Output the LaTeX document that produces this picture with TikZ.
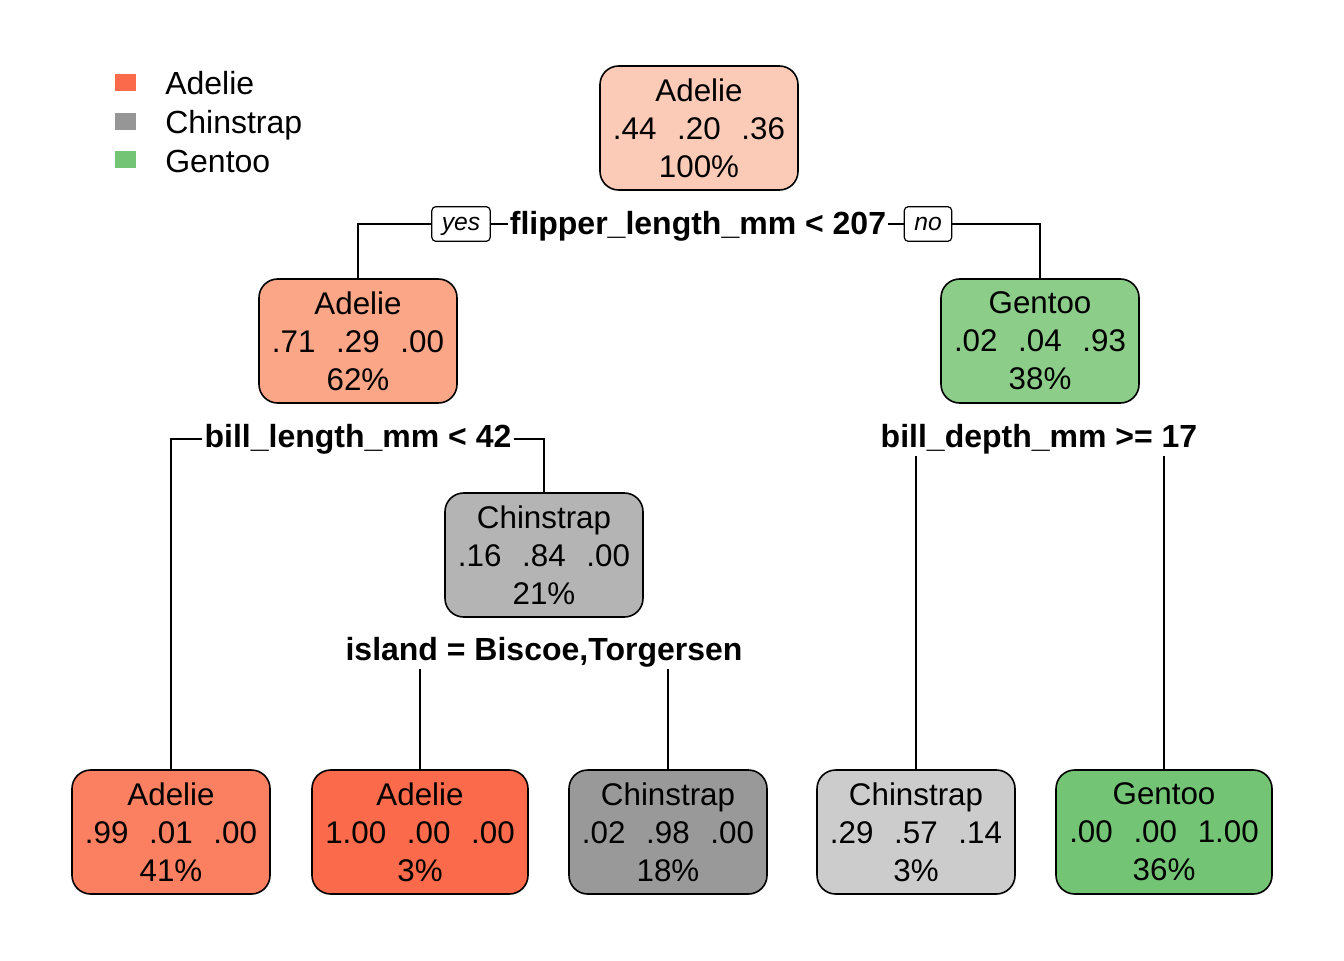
\documentclass[tikz,border=0pt]{standalone}
\usepackage{fontspec}
\setmainfont{Liberation Sans}
\definecolor{cRoot}{RGB}{252,203,184}
\definecolor{cAdA}{RGB}{252,166,136}
\definecolor{cGeA}{RGB}{140,206,137}
\definecolor{cChA}{RGB}{180,180,180}
\definecolor{cAdB}{RGB}{251,128,98}
\definecolor{cAdC}{RGB}{251,106,74}
\definecolor{cChB}{RGB}{153,153,153}
\definecolor{cChC}{RGB}{204,204,204}
\definecolor{cGeB}{RGB}{116,196,118}
\definecolor{kAd}{RGB}{251,106,74}
\definecolor{kCh}{RGB}{150,150,150}
\definecolor{kGe}{RGB}{116,196,118}
\newcommand{\gp}{\hspace{0.66em}}
\begin{document}
\begin{tikzpicture}[x=0.75pt,y=-0.75pt,
  tbox/.style={draw, line width=1.2pt, rounded corners=14pt, minimum width=148.5pt, minimum height=93pt, align=center, font=\fontsize{23.5}{28.5}\selectfont, inner sep=0pt},
  wbox/.style={tbox, minimum width=162pt},
  split/.style={font=\fontsize{24}{28}\selectfont\bfseries, inner sep=1.5pt},
  yn/.style={draw, line width=0.9pt, rounded corners=3pt, font=\fontsize{18.5}{20}\selectfont\itshape, inner xsep=7.5pt, inner ysep=0pt, minimum height=26pt, text height=13pt, text depth=3.5pt},
  conn/.style={line width=1.1pt},
  legsq/.style={minimum width=15.75pt, minimum height=12.75pt, inner sep=0pt},
  legtx/.style={anchor=base west, inner sep=0pt, font=\fontsize{24}{28}\selectfont}]
\useasboundingbox (0,0) rectangle (1344,960);
% legend
\node[legsq, fill=kAd] (k1) at (125.5,82.5) {};
\node[legsq, fill=kCh] (k2) at (125.5,121) {};
\node[legsq, fill=kGe] (k3) at (125.5,159.5) {};
\node[legtx] (t1) at (165,94) {Adelie};
\node[legtx] (t2) at (165,133) {Chinstrap};
\node[legtx] (t3) at (165,172) {Gentoo};
% tree nodes
\node[tbox, fill=cRoot] (n1) at (699,128) {Adelie\\.44\gp.20\gp.36\\100\%};
\node[tbox, fill=cAdA] (n2) at (358,341) {Adelie\\.71\gp.29\gp.00\\62\%};
\node[tbox, fill=cGeA] (n3) at (1040,341) {Gentoo\\.02\gp.04\gp.93\\38\%};
\node[tbox, fill=cChA] (n4) at (544,555) {Chinstrap\\.16\gp.84\gp.00\\21\%};
\node[tbox, fill=cAdB] (l1) at (171,832) {Adelie\\.99\gp.01\gp.00\\41\%};
\node[wbox, fill=cAdC] (l2) at (420,832) {Adelie\\1.00\gp.00\gp.00\\3\%};
\node[tbox, fill=cChB] (l3) at (668,832) {Chinstrap\\.02\gp.98\gp.00\\18\%};
\node[tbox, fill=cChC] (l4) at (916,832) {Chinstrap\\.29\gp.57\gp.14\\3\%};
\node[wbox, fill=cGeB] (l5) at (1164,832) {Gentoo\\.00\gp.00\gp1.00\\36\%};
% split labels
\node[split] (s1) at (698,226) {flipper\_length\_mm < 207};
\node[yn] (yes) at (461,224) {yes};
\node[yn] (no) at (928,224) {no};
\node[split] (s2) at (358,439) {bill\_length\_mm < 42};
\node[split] (s3) at (1039,439) {bill\_depth\_mm >= 17};
\node[split] (s4) at (544,652) {island = Biscoe,Torgersen};
% connectors
\draw[conn] (n2.north) |- (yes.west);
\draw[conn] (yes.east) -- (yes.east -| s1.west);
\draw[conn] (s1.east |- no.west) -- (no.west);
\draw[conn] (no.east) -| (n3.north);
\draw[conn] (l1.north) |- (s2.west);
\draw[conn] (s2.east) -| (n4.north);
\draw[conn] (l4.north) -- (l4.north |- s3.south);
\draw[conn] (l5.north) -- (l5.north |- s3.south);
\draw[conn] (l2.north) -- (l2.north |- s4.south);
\draw[conn] (l3.north) -- (l3.north |- s4.south);
\end{tikzpicture}
\end{document}
